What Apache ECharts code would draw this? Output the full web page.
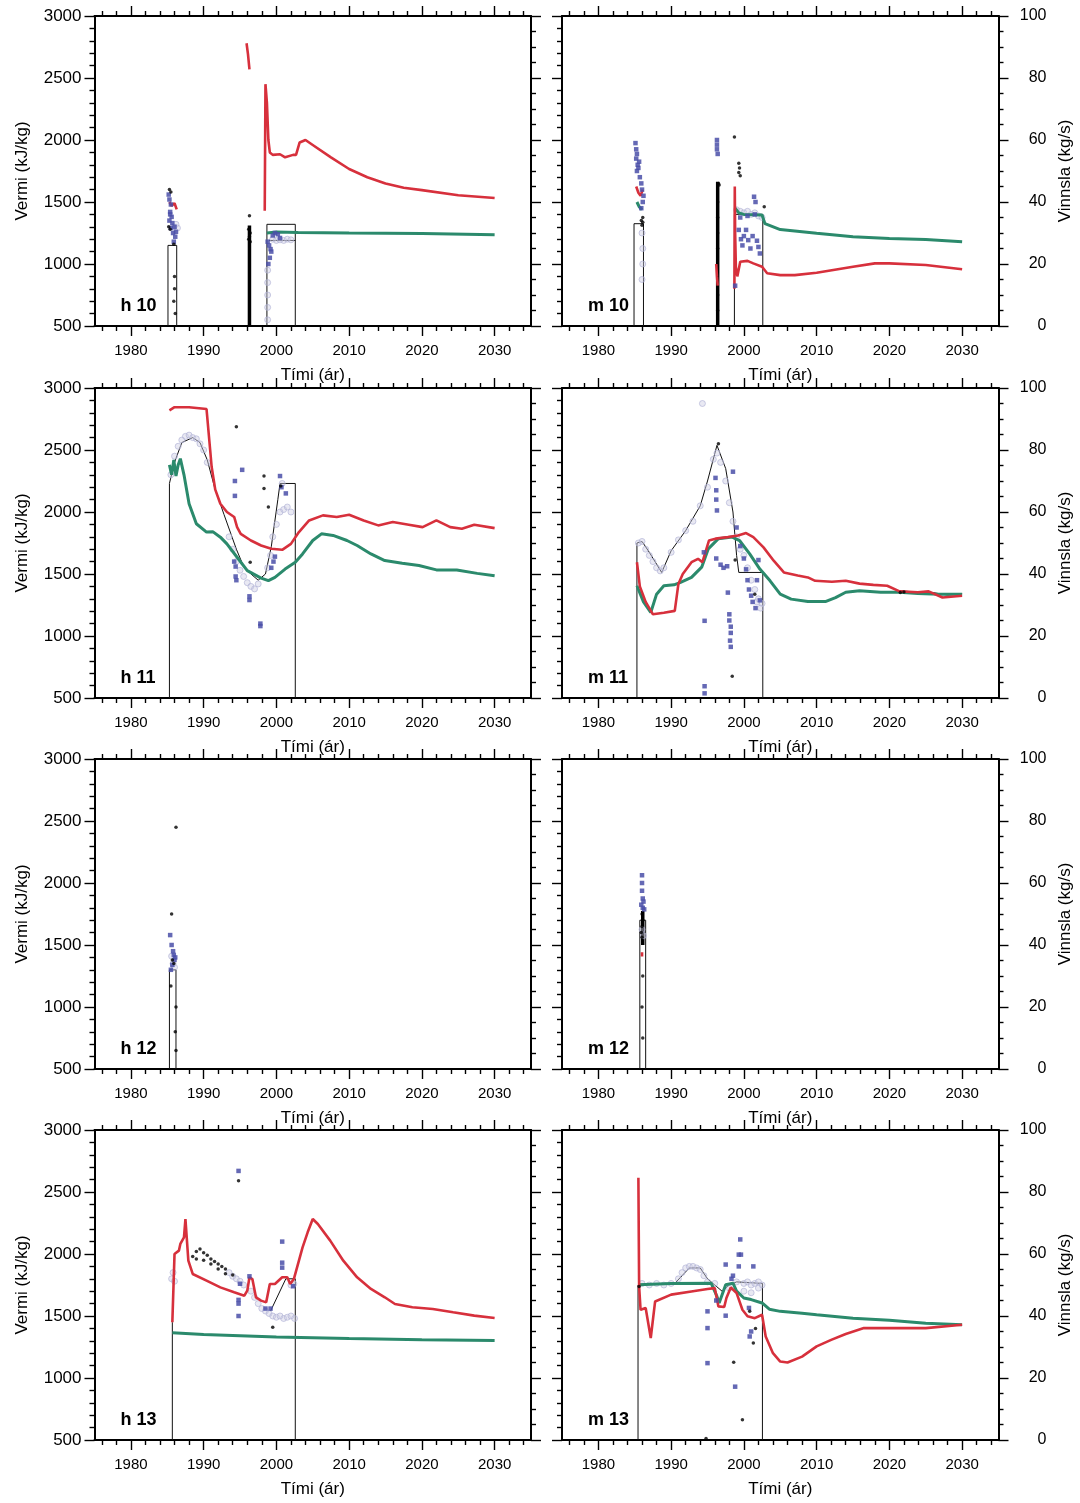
<!DOCTYPE html>
<html>
<head>
<meta charset="utf-8">
<script src="https://cdn.jsdelivr.net/npm/echarts@6/dist/echarts.min.js"></script>
<style>
  html, body { margin: 0; padding: 0; background: #ffffff; }
  #chart { width: 1080px; height: 1503px; }
</style>
</head>
<body>
<div id="chart"></div>
<script>
// ---- Axis ticks -------------------------------------------------------
const yearTicks = [1980, 1990, 2000, 2010, 2020, 2030];
const minorYears = [];
for (let y = 1976; y <= 2034; y += 2) if (y % 10 !== 0) minorYears.push(y);

// ---- Well 10 : enthalpy (kJ/kg) ---------------------------------------
const h10Red = [
  [[1985.3, 1500], [1985.6, 1470], [1986.0, 1490], [1986.3, 1440]],
  [[1995.9, 2780], [1996.1, 2690], [1996.3, 2570]],
  [[1998.4, 1430], [1998.5, 2450], [1998.7, 2300], [1998.9, 2000], [1999.1, 1900], [1999.5, 1880],
   [2000.5, 1885], [2001.2, 1860], [2002.3, 1880], [2002.7, 1880], [2003.2, 1980], [2004, 2000],
   [2005, 1960], [2007.5, 1860], [2010, 1766], [2012.5, 1700], [2015, 1650], [2017.5, 1615],
   [2020, 1596], [2025, 1555], [2030, 1532]]
];
const h10Green = [
  [[1998.7, 1250], [2000, 1258], [2003, 1255], [2010, 1250], [2020, 1245], [2030, 1235]]
];
const h10Line = [
  [[1985.1, 500], [1985.1, 1150], [1986.3, 1150], [1986.3, 500]],
  [[1998.7, 500], [1998.7, 1320], [2002.6, 1320], [2002.6, 500]],
  [[1999.0, 1190], [2002.6, 1190]]
];
const h10Thick = [[[1996.3, 500], [1996.3, 1310]]];
const h10Blue = [
  [1985.2, 1560], [1985.3, 1520], [1985.5, 1480], [1985.4, 1420], [1985.6, 1380], [1985.3, 1350],
  [1985.7, 1330], [1985.5, 1290], [1986.0, 1300], [1986.2, 1260], [1986.1, 1220], [1985.9, 1180],
  [1985.8, 1250], [1985.4, 1400], [1998.8, 1180], [1999.0, 1150], [1999.2, 1120], [1999.3, 1100],
  [1999.1, 1050], [1998.9, 1000], [1999.5, 1230], [1999.8, 1250], [2000.2, 1240], [2000.5, 1210]
];
const h10Gray = [
  [1985.9, 1300], [1986.2, 1320], [1986.4, 1290], [1999.5, 1200], [2000.0, 1190], [2000.5, 1195],
  [2001.0, 1190], [2001.5, 1200], [2002.0, 1195], [1998.8, 950], [1998.8, 850], [1998.8, 750],
  [1998.8, 650], [1998.8, 550]
];
const h10Dots = [
  [1985.3, 1600], [1985.5, 1580], [1985.2, 1300], [1985.4, 1280], [1985.9, 1160], [1996.3, 1390],
  [1996.2, 1280], [1996.4, 1250], [1996.3, 1220], [1996.2, 1200], [1996.4, 1180], [1986.0, 900],
  [1986.0, 800], [1985.9, 700], [1986.1, 600]
];

// ---- Well 10 : mass flow (kg/s) ---------------------------------------
const m10Red = [
  [[1985.2, 45], [1985.5, 43], [1985.8, 42], [1986.1, 44]],
  [[1996.2, 20], [1996.3, 16], [1996.4, 13]],
  [[1998.7, 12], [1998.75, 45], [1998.8, 30], [1998.9, 19], [1999.1, 16], [1999.5, 20.7], [2000.5, 21],
   [2001.3, 20.2], [2002.5, 19.1], [2003.2, 17], [2005, 16.4], [2007, 16.4], [2010, 17.2],
   [2015, 19.1], [2018, 20.2], [2020, 20.2], [2025, 19.7], [2030, 18.3]]
];
const m10Green = [
  [[1985.3, 40], [1985.6, 38.5], [1986.0, 37.5]],
  [[1998.8, 38], [1999.3, 36.5], [2000, 36], [2002.5, 35.8], [2002.9, 33], [2005, 31.1], [2010, 29.9],
   [2015, 28.8], [2020, 28.2], [2025, 27.9], [2030, 27.2]]
];
const m10Line = [
  [[1984.9, 0], [1984.9, 33], [1986.2, 33], [1986.2, 0]],
  [[1998.7, 0], [1998.7, 36], [2002.6, 36], [2002.6, 0]]
];
const m10Thick = [[[1996.4, 0], [1996.4, 46.5]]];
const m10Blue = [
  [1985.1, 59], [1985.2, 57], [1985.3, 55.5], [1985.2, 54], [1985.4, 52], [1985.5, 51], [1985.6, 53],
  [1985.3, 50], [1985.7, 48], [1985.9, 46], [1986.0, 44], [1986.2, 42], [1986.1, 40], [1985.9, 38],
  [1996.3, 60], [1996.3, 58.5], [1996.3, 57], [1996.4, 55.5], [1999.3, 31], [1999.6, 28], [1999.8, 26],
  [2000.0, 29], [2000.3, 31], [2000.6, 27.7], [2000.9, 25], [2001.2, 29], [2001.4, 41.7], [2001.6, 40],
  [2001.8, 27.5], [2002.0, 25.5], [2002.2, 23.4], [1999.5, 35], [2000.5, 35.5], [2001.5, 36], [1998.8, 13]
];
const m10Gray = [
  [1999.0, 37.5], [1999.5, 37], [2000.0, 36.5], [2000.5, 37], [2001.0, 36], [2001.5, 36.5], [2002.0, 35.5],
  [2002.5, 35], [1986.0, 30], [1986.1, 25], [1986.1, 20], [1986.0, 15]
];
const m10Dots = [
  [1998.7, 61], [1999.3, 52.5], [1999.4, 51], [1999.3, 49.5], [1999.5, 48.5], [1996.5, 46], [1996.6, 45.5],
  [1986.1, 35], [1986.1, 33.5], [1986.0, 32.5], [1985.9, 34], [2002.8, 38.5], [1996.4, 40], [1996.4, 35],
  [1996.4, 30], [1996.4, 25], [1996.4, 10], [1996.4, 5]
];

// ---- Well 11 : enthalpy (kJ/kg) ---------------------------------------
const h11Red = [
  [[1985.3, 2820], [1986, 2845], [1988, 2845], [1990.4, 2830], [1990.9, 2500], [1991.1, 2365],
   [1991.6, 2180], [1992.3, 2067], [1993.2, 2000], [1994.2, 1960], [1994.6, 1878], [1995.1, 1824],
   [1996.5, 1770], [1997.9, 1730], [1999.3, 1703], [2000.8, 1695], [2002, 1743], [2003.1, 1838],
   [2004.5, 1932], [2006.4, 1973], [2008.3, 1960], [2010, 1978], [2012, 1932], [2014, 1892],
   [2016, 1919], [2018.2, 1897], [2020.1, 1878], [2022, 1932], [2023.9, 1878], [2025.5, 1865],
   [2027.2, 1897], [2030, 1870]]
];
const h11Green = [
  [[1985.3, 2380], [1985.6, 2300], [1985.9, 2420], [1986.2, 2290], [1986.5, 2380], [1986.8, 2430],
   [1987.3, 2300], [1988, 2067], [1989, 1905], [1990.4, 1838], [1991.3, 1840], [1992.3, 1797],
   [1993.2, 1743], [1994.6, 1635], [1996, 1527], [1997.9, 1467], [1998.9, 1446], [1999.8, 1473],
   [2001.2, 1540], [2002.6, 1594], [2003.6, 1662], [2005, 1770], [2006.2, 1824], [2007.8, 1811],
   [2009.7, 1770], [2011.1, 1730], [2013, 1662], [2014.9, 1608], [2017.3, 1587], [2019.6, 1568],
   [2022, 1533], [2024.8, 1533], [2027.6, 1505], [2030, 1486]]
];
const h11Line = [
  [[1985.3, 500], [1985.3, 2230], [1986, 2400], [1987, 2560], [1988.5, 2600], [1989.5, 2560],
   [1990.5, 2420], [1991.5, 2200], [1992.8, 1980], [1994.5, 1700], [1995.5, 1560], [1996.5, 1500],
   [1997.5, 1450], [1998.5, 1500], [1999.3, 1720], [2000.2, 2100], [2000.5, 2230], [2002.6, 2230],
   [2002.6, 500]]
];
const h11Thick = [];
const h11Blue = [
  [1994.5, 1450], [1994.4, 1480], [1996.3, 1320], [1996.3, 1290], [1997.8, 1100], [1997.8, 1080],
  [1994.3, 2130], [1994.3, 2250], [1995.3, 2340], [2001.3, 2150], [1999.6, 1600], [1999.8, 1640],
  [2000.5, 2290], [1994.4, 1560], [1999.3, 1550], [2000.7, 2200], [1994.2, 1600]
];
const h11Gray = [
  [1985.5, 2300], [1986, 2450], [1986.5, 2530], [1987, 2580], [1987.5, 2610], [1988, 2620],
  [1988.5, 2600], [1989, 2590], [1989.5, 2550], [1990, 2500], [1990.5, 2400], [1993.5, 1800],
  [1994, 1700], [1994.5, 1600], [1995, 1530], [1995.5, 1480], [1996, 1430], [1996.5, 1400],
  [1997, 1380], [1997.5, 1420], [2000.5, 2000], [2001, 2020], [2001.5, 2040], [2002, 2000],
  [2000, 1900], [2000.8, 2230], [1999.5, 1800], [1999.2, 1650], [1998.8, 1550]
];
const h11Dots = [
  [1994.5, 2688], [1998.3, 2290], [1998.3, 2190], [1998.9, 2040], [1996.4, 1594], [2000.6, 2210]
];

// ---- Well 11 : mass flow (kg/s) ---------------------------------------
const m11Red = [
  [[1985.3, 43.8], [1985.7, 36], [1986.5, 31], [1987.5, 27], [1989, 27.5], [1990.5, 28.1], [1991, 36.8],
   [1991.6, 40], [1992.8, 43.8], [1993.7, 44.9], [1994.3, 43.8], [1995.2, 50.8], [1996.1, 51.4],
   [1997.8, 51.9], [1999.2, 52.4], [2000.3, 53.2], [2001.3, 51.9], [2002.7, 48.6], [2004.1, 44.3],
   [2005.5, 40.5], [2007.4, 39.5], [2008.8, 38.9], [2009.8, 37.8], [2012.1, 37.5], [2014, 37.8],
   [2015.9, 36.9], [2017.8, 36.5], [2019.7, 36.2], [2021.4, 34.4], [2023.9, 34.1], [2025.4, 34.4],
   [2027.3, 32.4], [2030, 33]]
];
const m11Green = [
  [[1985.3, 36.2], [1986.2, 31], [1987.2, 27.6], [1988, 33.5], [1989, 36.2], [1990.4, 36.5],
   [1991.3, 37.3], [1992.8, 38.9], [1994.2, 42.2], [1995.1, 48.1], [1996.5, 51.4], [1998.4, 51.9],
   [1999.4, 50.8], [2000.8, 46.5], [2002.2, 41.6], [2003.6, 37.8], [2005, 33.5], [2006.5, 31.9],
   [2008.8, 31.1], [2011.2, 31.1], [2012.6, 32.4], [2014, 34.1], [2015.9, 34.6], [2018.8, 34.1],
   [2021.4, 34.1], [2023.9, 33.7], [2026.8, 33.5], [2030, 33.5]]
];
const m11Line = [
  [[1985.3, 0], [1985.3, 50], [1986, 50.5], [1987, 47], [1988.7, 40.5], [1990, 47.5], [1992, 54],
   [1994, 62], [1995, 70], [1996.3, 81.5], [1997.5, 74], [1998.5, 60], [1999, 46], [1999.3, 40.5],
   [2002.6, 40.5], [2002.6, 0]],
  [[2021.3, 34.6], [2023, 34.3], [2026, 34], [2028, 33.2], [2030, 33.6]]
];
const m11Thick = [];
const m11Blue = [
  [1994.5, 47], [1994.6, 24.9], [1994.6, 3.8], [1994.6, 1.5], [1996.1, 71], [1996.2, 67], [1996.2, 64],
  [1996.3, 60.5], [1996.2, 45], [1996.8, 43], [1997.2, 42], [1997.7, 42.5], [1997.8, 34], [1998, 27],
  [1998, 25], [1998.2, 23], [1998.2, 21], [1998.1, 18.5], [1998.2, 16.5], [1998.5, 73], [1999, 55],
  [1999.5, 49], [2000, 45], [2000.3, 41.5], [2000.5, 38], [2000.7, 35], [2001, 33], [2001.2, 31],
  [2001.6, 29], [2001.8, 38], [2002, 44.5], [2002.2, 31.5]
];
const m11Gray = [
  [1985.5, 50], [1986, 50.5], [1986.5, 48], [1987, 46], [1987.5, 44], [1988, 42], [1988.5, 41],
  [1989, 42], [1990, 47], [1991, 51], [1992, 54], [1993, 57], [1994, 62], [1995, 68], [1995.8, 77],
  [1996.3, 79], [1996.8, 76], [1997.5, 70], [1998, 63], [1998.5, 57], [1999, 52], [1999.5, 48],
  [2000, 46], [2000.5, 42], [2001, 38], [2001.5, 35], [2002, 32], [2002.5, 30.5], [2001.8, 31],
  [2002.3, 29], [1994.3, 95]
];
const m11Dots = [
  [1996.5, 82], [1998.4, 7], [1998.8, 44.5], [2001.5, 33.5], [2021.5, 34], [2022, 34.2]
];

// ---- Well 12 : enthalpy (kJ/kg) ---------------------------------------
const h12Red = [];
const h12Green = [];
const h12Line = [[[1985.3, 500], [1985.3, 1300], [1986.2, 1300], [1986.2, 500]]];
const h12Thick = [];
const h12Blue = [
  [1985.4, 1580], [1985.6, 1500], [1985.8, 1450], [1985.9, 1420], [1986.0, 1380], [1985.7, 1340],
  [1986.1, 1400], [1985.5, 1300]
];
const h12Gray = [[1985.8, 1350], [1986.0, 1320], [1985.6, 1410]];
const h12Dots = [
  [1985.6, 1750], [1986.2, 2450], [1985.5, 1170], [1985.9, 1350], [1985.7, 1380], [1986.2, 1000],
  [1986.1, 800], [1986.2, 650]
];

// ---- Well 12 : mass flow (kg/s) ---------------------------------------
const m12Red = [[[1986.0, 36.3], [1986.0, 37.7]]];
const m12Green = [];
const m12Line = [[[1985.7, 0], [1985.7, 48], [1986.5, 48], [1986.5, 0]]];
const m12Thick = [[[1986.1, 40], [1986.1, 51]]];
const m12Blue = [
  [1986.0, 62.5], [1986.0, 60], [1986.0, 57.5], [1986.1, 55], [1986.2, 54], [1985.9, 53],
  [1986.1, 52], [1986.3, 51.5]
];
const m12Gray = [[1986.0, 45], [1986.2, 43]];
const m12Dots = [
  [1986.0, 50], [1986.1, 48], [1986.0, 46], [1985.9, 44], [1986.0, 42.5], [1986.1, 30], [1986.0, 20],
  [1986.1, 10]
];

// ---- Well 13 : enthalpy (kJ/kg) ---------------------------------------
const h13Red = [
  [[1985.7, 1450], [1986.0, 2000], [1986.6, 2027], [1986.8, 2081], [1987.3, 2134], [1987.5, 2282],
   [1987.9, 1946], [1988.5, 1839], [1990.4, 1785], [1992.3, 1731], [1994.2, 1691], [1995.6, 1664],
   [1996.0, 1704], [1996.3, 1812], [1996.7, 1798], [1997.2, 1650], [1997.9, 1624], [1998.6, 1610],
   [1999.1, 1758], [1999.8, 1758], [2000.8, 1812], [2001.5, 1812], [2001.9, 1758], [2002.4, 1798],
   [2002.6, 1812], [2003.1, 1946], [2003.6, 2054], [2004.3, 2175], [2005, 2282], [2005.7, 2242],
   [2007.4, 2108], [2009.2, 1946], [2011.1, 1812], [2013, 1718], [2014.9, 1651], [2016.3, 1597],
   [2018.7, 1570], [2021.5, 1557], [2024.3, 1530], [2027.2, 1503], [2030, 1484]]
];
const h13Green = [
  [[1985.7, 1365], [1990, 1350], [1995, 1340], [2000, 1330], [2010, 1318], [2020, 1308], [2030, 1302]]
];
const h13Line = [
  [[1985.7, 500], [1985.7, 1450]],
  [[1999.2, 1540], [2001.3, 1800], [2002.6, 1800], [2002.6, 500]]
];
const h13Thick = [];
const h13Blue = [
  [1994.8, 2670], [1994.8, 1630], [1994.8, 1600], [1994.8, 1500], [2000.8, 2100], [2000.8, 1930],
  [2000.8, 1890], [1996.3, 1820], [1995.0, 1760], [1999.2, 1560], [1998.5, 1560], [2002.3, 1740]
];
const h13Gray = [
  [1985.6, 1800], [1985.8, 1850], [1986.0, 1780], [1993.5, 1850], [1994.0, 1820], [1994.5, 1800],
  [1995.0, 1780], [1995.5, 1750], [1996.5, 1700], [1997.0, 1650], [1997.5, 1600], [1998.0, 1560],
  [1998.5, 1540], [1999.0, 1520], [1999.5, 1500], [2000.0, 1490], [2000.5, 1500], [2001.0, 1480],
  [2001.5, 1490], [2002.0, 1500], [2002.5, 1480], [2002.0, 1750], [2002.4, 1760]
];
const h13Dots = [
  [1994.8, 2590], [1999.5, 1410], [1988.5, 1980], [1989.0, 2020], [1989.5, 2040], [1990.0, 2010],
  [1990.5, 1990], [1991.0, 1960], [1991.5, 1940], [1992.0, 1920], [1992.5, 1900], [1993.0, 1880],
  [1989.0, 1960], [1990.0, 1950], [1991.0, 1920], [1992.0, 1880], [1993.0, 1840], [1994.0, 1830]
];

// ---- Well 13 : mass flow (kg/s) ---------------------------------------
const m13Red = [
  [[1985.5, 84.6], [1985.6, 49.6], [1985.8, 42], [1986.5, 42.6], [1987.2, 32.9], [1987.8, 44.7],
   [1990, 46.9], [1993, 48], [1995, 48.7], [1996, 49], [1996.5, 43.1], [1997.3, 42.9], [1997.6, 45.8],
   [1998.2, 49.2], [1999, 47.4], [1999.8, 42], [2000.5, 39.9], [2001.5, 39.3], [2002.5, 40.4],
   [2003, 33.4], [2004, 28], [2005, 25.3], [2006, 25], [2008, 26.9], [2010, 30.2], [2012, 32.3],
   [2014, 34.2], [2016.5, 36.1], [2020, 36.1], [2025, 36.1], [2030, 37.2]]
];
const m13Green = [
  [[1985.5, 50.1], [1990, 50.5], [1995.5, 50.6], [1996.3, 46.3], [1996.6, 44.2], [1997.5, 50.1],
   [1998.5, 50.6], [1999, 48], [2000, 45.8], [2001, 45.3], [2002.5, 44.2], [2003.5, 42.2], [2005, 41.5],
   [2008, 40.9], [2010, 40.4], [2015, 39.3], [2020, 38.6], [2025, 37.7], [2030, 37.2]]
];
const m13Line = [
  [[1985.45, 0], [1985.45, 50], [1990.5, 50.5], [1991.5, 53], [1992.5, 55.5], [1994, 55.5], [1995, 52],
   [1996, 50], [1997, 48], [1998, 50], [1999, 51], [2002.55, 50.5], [2002.55, 0]]
];
const m13Thick = [];
const m13Blue = [
  [1999.5, 64.7], [1999.3, 59.8], [1999.6, 59.8], [2001.3, 56], [1997.5, 56.6], [1998.5, 53],
  [1998.3, 52], [1995, 41.5], [1995, 36.1], [1995, 24.8], [1998.8, 17.2], [1997.5, 40.1], [2000.7, 42.6],
  [2000.8, 33.4], [2001, 35], [1999.3, 56], [1996.2, 45]
];
const m13Gray = [
  [1986, 50.5], [1987, 50], [1988, 50.5], [1989, 50], [1990, 50.5], [1991, 52], [1991.5, 54], [1992, 55.5],
  [1992.5, 56], [1993, 56], [1993.5, 55.5], [1994, 55], [1994.5, 53], [1995, 51], [1996, 50.5], [1998, 49],
  [1999, 51], [2000, 50.5], [2000.5, 51], [2001, 50], [2001.5, 50.5], [2002, 51], [2002.5, 50], [2000, 48],
  [2001, 47.5], [2002, 49]
];
const m13Dots = [
  [1998.6, 25.1], [1999.8, 6.5], [2001.3, 31.3], [1994.8, 0.5], [2001.6, 36], [2000.8, 41.5], [1985.6, 49.5]
];

// ---- Panel list (reading order: left = enthalpy, right = flow) --------
const panels = [
  { label: 'h 10', flow: false, red: h10Red, green: h10Green, line: h10Line, thick: h10Thick, blue: h10Blue, gray: h10Gray, dots: h10Dots },
  { label: 'm 10', flow: true,  red: m10Red, green: m10Green, line: m10Line, thick: m10Thick, blue: m10Blue, gray: m10Gray, dots: m10Dots },
  { label: 'h 11', flow: false, red: h11Red, green: h11Green, line: h11Line, thick: h11Thick, blue: h11Blue, gray: h11Gray, dots: h11Dots },
  { label: 'm 11', flow: true,  red: m11Red, green: m11Green, line: m11Line, thick: m11Thick, blue: m11Blue, gray: m11Gray, dots: m11Dots },
  { label: 'h 12', flow: false, red: h12Red, green: h12Green, line: h12Line, thick: h12Thick, blue: h12Blue, gray: h12Gray, dots: h12Dots },
  { label: 'm 12', flow: true,  red: m12Red, green: m12Green, line: m12Line, thick: m12Thick, blue: m12Blue, gray: m12Gray, dots: m12Dots },
  { label: 'h 13', flow: false, red: h13Red, green: h13Green, line: h13Line, thick: h13Thick, blue: h13Blue, gray: h13Gray, dots: h13Dots },
  { label: 'm 13', flow: true,  red: m13Red, green: m13Green, line: m13Line, thick: m13Thick, blue: m13Blue, gray: m13Gray, dots: m13Dots }
];

// ---- Layout and style -------------------------------------------------
const FONT = '"Liberation Sans", Arial, Helvetica, sans-serif';
const COL_LEFT = [94.5, 562];
const COL_W = 436.5;
const ROW_TOP = [16, 388, 759, 1130];
const ROW_H = 310;
const RED = '#d7303c';
const GREEN = '#2b8a6c';
const BLUE = '#4a4fa8';
const BLACK = '#000';
const plain = v => String(v);

const grids = [], xAxes = [], yAxes = [], series = [], graphics = [];

const frameLine = { show: true, onZero: false, lineStyle: { color: BLACK, width: 2 } };
const tickStyle = { color: BLACK, width: 1.4 };

panels.forEach((p, g) => {
  const col = g % 2, row = Math.floor(g / 2);
  const left = COL_LEFT[col], top = ROW_TOP[row];
  grids.push({ left: left, top: top, width: COL_W, height: ROW_H });

  const xBase = { gridIndex: g, type: 'value', min: 1975, max: 2035, splitLine: { show: false } };
  // bottom axis: major ticks + labels + title
  xAxes.push(Object.assign({}, xBase, {
    position: 'bottom',
    axisLine: frameLine,
    axisTick: { show: true, inside: false, length: 10, customValues: yearTicks, lineStyle: tickStyle },
    axisLabel: { show: true, customValues: yearTicks, formatter: plain, margin: 17, fontSize: 15, color: BLACK, fontFamily: FONT },
    name: 'Tími (ár)', nameLocation: 'middle', nameGap: 41,
    nameTextStyle: { fontSize: 17, color: BLACK, fontFamily: FONT }
  }));
  // bottom axis: minor ticks
  xAxes.push(Object.assign({}, xBase, {
    position: 'bottom',
    axisLine: { show: false, onZero: false },
    axisTick: { show: true, inside: false, length: 5, customValues: minorYears, lineStyle: tickStyle },
    axisLabel: { show: false }
  }));
  // top frame: major ticks
  xAxes.push(Object.assign({}, xBase, {
    position: 'top',
    axisLine: frameLine,
    axisTick: { show: true, inside: false, length: 10, customValues: yearTicks, lineStyle: tickStyle },
    axisLabel: { show: false }
  }));
  // top frame: minor ticks
  xAxes.push(Object.assign({}, xBase, {
    position: 'top',
    axisLine: { show: false, onZero: false },
    axisTick: { show: true, inside: false, length: 5, customValues: minorYears, lineStyle: tickStyle },
    axisLabel: { show: false }
  }));

  // left axis: enthalpy
  yAxes.push({
    gridIndex: g, type: 'value', position: 'left', min: 500, max: 3000, interval: 500,
    axisLine: frameLine,
    axisTick: { show: true, inside: false, length: 10, lineStyle: tickStyle },
    minorTick: { show: true, splitNumber: 5, length: 5, lineStyle: tickStyle },
    splitLine: { show: false }, minorSplitLine: { show: false },
    axisLabel: { show: col === 0, formatter: plain, margin: 13, fontSize: 17, color: BLACK, fontFamily: FONT },
    name: col === 0 ? 'Vermi (kJ/kg)' : '', nameLocation: 'middle', nameRotate: 90, nameGap: 64,
    nameTextStyle: { fontSize: 17, color: BLACK, fontFamily: FONT }
  });
  // right axis: mass flow
  yAxes.push({
    gridIndex: g, type: 'value', position: 'right', min: 0, max: 100, interval: 20,
    axisLine: frameLine,
    axisTick: { show: true, inside: false, length: 10, lineStyle: tickStyle },
    minorTick: { show: true, splitNumber: 4, length: 5, lineStyle: tickStyle },
    splitLine: { show: false }, minorSplitLine: { show: false },
    axisLabel: { show: col === 1, formatter: plain, align: 'right', margin: 48, fontSize: 16, color: BLACK, fontFamily: FONT },
    name: col === 1 ? 'Vinnsla (kg/s)' : '', nameLocation: 'middle', nameRotate: 90, nameGap: 58,
    nameTextStyle: { fontSize: 17, color: BLACK, fontFamily: FONT }
  });

  const xi = 4 * g;
  const yi = p.flow ? 2 * g + 1 : 2 * g;
  const lineSeries = (data, color, width, z) => ({
    type: 'line', xAxisIndex: xi, yAxisIndex: yi, data: data, showSymbol: false, symbol: 'none',
    lineStyle: { color: color, width: width }, z: z, silent: true
  });
  const scatterSeries = (data, symbol, size, style, z) => ({
    type: 'scatter', xAxisIndex: xi, yAxisIndex: yi, data: data, symbol: symbol, symbolSize: size,
    itemStyle: style, z: z, silent: true
  });

  p.line.forEach(seg => series.push(lineSeries(seg, '#111', 1, 2)));
  p.thick.forEach(seg => series.push(lineSeries(seg, '#000', 3.5, 2)));
  series.push(scatterSeries(p.gray, 'circle', 6, { color: 'rgba(205,205,228,0.55)', borderColor: '#aeb0d4', borderWidth: 0.8 }, 3));
  p.green.forEach(seg => series.push(lineSeries(seg, GREEN, 3, 4)));
  p.red.forEach(seg => series.push(lineSeries(seg, RED, 2.6, 5)));
  series.push(scatterSeries(p.blue, 'rect', 4.5, { color: BLUE, opacity: 0.85 }, 6));
  series.push(scatterSeries(p.dots, 'circle', 3.5, { color: '#000' }, 6));

  // panel tag, bottom-left inside the frame
  graphics.push({
    type: 'text', left: left + 26, top: top + ROW_H - 29, z: 10,
    style: { text: p.label, fontSize: 18, fontWeight: 'bold', fill: BLACK, fontFamily: FONT }
  });
});

const chart = echarts.init(document.getElementById('chart'), null, { renderer: 'canvas' });
chart.setOption({
  backgroundColor: '#ffffff',
  animation: false,
  grid: grids,
  xAxis: xAxes,
  yAxis: yAxes,
  series: series,
  graphic: graphics
});
</script>
</body>
</html>
